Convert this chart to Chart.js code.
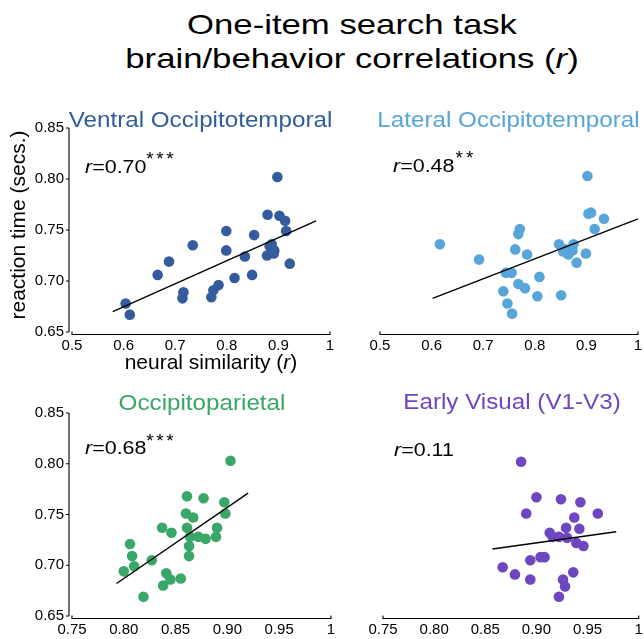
<!DOCTYPE html>
<html>
<head>
<meta charset="utf-8">
<script src="https://cdn.jsdelivr.net/npm/chart.js@4"></script>
<style>
  html, body { margin: 0; padding: 0; background: #fff; }
  #wrap { position: relative; width: 644px; height: 639px; overflow: hidden;
          font-family: "Liberation Sans", Arial, Helvetica, sans-serif; }
  #wrap canvas { position: absolute; left: 0; top: 0; }
  .ttl { position: absolute; left: 352px; white-space: nowrap; font-size: 28px; line-height: 28px;
         color: #000; transform: translateX(-50%) scaleX(1.24); }
</style>
</head>
<body>
<div id="wrap">
  <div class="ttl" style="top:11px">One-item search task</div>
  <div class="ttl" style="top:45px">brain/behavior correlations (<i>r</i>)</div>
  <canvas id="pVentral" width="644" height="639"></canvas>
  <canvas id="pLateral" width="644" height="639"></canvas>
  <canvas id="pParietal" width="644" height="639"></canvas>
  <canvas id="pEarly" width="644" height="639"></canvas>
</div>
<script>
// ---- axis ticks ----
const yTicks = [0.65, 0.70, 0.75, 0.80, 0.85];
const yTickLabels = ['0.65', '0.70', '0.75', '0.80', '0.85'];
const xTicksWide = [0.5, 0.6, 0.7, 0.8, 0.9, 1];
const xTickLabelsWide = ['0.5', '0.6', '0.7', '0.8', '0.9', '1'];
const xTicksNarrow = [0.75, 0.80, 0.85, 0.90, 0.95, 1];
const xTickLabelsNarrow = ['0.75', '0.80', '0.85', '0.90', '0.95', '1'];

// ---- region names and correlation labels ----
const regionNames = ['Ventral Occipitotemporal', 'Lateral Occipitotemporal', 'Occipitoparietal', 'Early Visual (V1-V3)'];
const rValues = ['0.70', '0.48', '0.68', '0.11'];
const rStars = ['***', '**', '***', ''];
const xAxisTitle = 'neural similarity (';
const yAxisTitle = 'reaction time (secs.)';

// ---- ventral occipitotemporal ----
const ventralSim = [0.604, 0.612, 0.666, 0.688, 0.716, 0.714, 0.734, 0.770, 0.774, 0.784, 0.799, 0.799, 0.815, 0.835,
  0.849, 0.853, 0.879, 0.883, 0.892, 0.878, 0.891, 0.887, 0.898, 0.902, 0.913, 0.915, 0.922];
const ventralRT = [0.678, 0.667, 0.706, 0.719, 0.689, 0.683, 0.735, 0.684, 0.691, 0.696, 0.749, 0.730, 0.703, 0.724,
  0.706, 0.745, 0.765, 0.734, 0.730, 0.725, 0.727, 0.736, 0.802, 0.764, 0.759, 0.749, 0.717];
const ventralFitX = [0.579, 0.973];
const ventralFitY = [0.670, 0.759];

// ---- lateral occipitotemporal ----
const lateralSim = [0.616, 0.692, 0.739, 0.747, 0.756, 0.744, 0.755, 0.762, 0.768, 0.771, 0.768, 0.781, 0.785, 0.805,
  0.809, 0.847, 0.851, 0.855, 0.860, 0.865, 0.873, 0.875, 0.881, 0.899, 0.902, 0.904, 0.909, 0.916, 0.934];
const lateralRT = [0.736, 0.721, 0.690, 0.678, 0.668, 0.708, 0.708, 0.731, 0.746, 0.751, 0.697, 0.693, 0.726, 0.685,
  0.704, 0.736, 0.686, 0.729, 0.731, 0.726, 0.730, 0.736, 0.718, 0.727, 0.803, 0.766, 0.767, 0.751, 0.761];
const lateralFitX = [0.602, 1.0];
const lateralFitY = [0.683, 0.761];

// ---- occipitoparietal ----
const parietalSim = [0.800, 0.806, 0.808, 0.810, 0.819, 0.827, 0.837, 0.846, 0.838, 0.841, 0.845, 0.855, 0.860, 0.861,
  0.867, 0.861, 0.864, 0.863, 0.863, 0.872, 0.877, 0.879, 0.889, 0.890, 0.897, 0.898, 0.903];
const parietalRT = [0.694, 0.721, 0.709, 0.699, 0.669, 0.705, 0.737, 0.732, 0.680, 0.692, 0.686, 0.687, 0.751, 0.768,
  0.747, 0.737, 0.728, 0.719, 0.709, 0.728, 0.766, 0.726, 0.728, 0.737, 0.762, 0.751, 0.803];
const parietalFitX = [0.793, 0.920];
const parietalFitY = [0.682, 0.771];

// ---- early visual (V1-V3) ----
const earlySim = [0.885, 0.900, 0.924, 0.943, 0.890, 0.960, 0.937, 0.929, 0.942, 0.913, 0.916, 0.922, 0.930, 0.939,
  0.946, 0.904, 0.908, 0.894, 0.867, 0.879, 0.894, 0.936, 0.926, 0.928, 0.922];
const earlyRT = [0.802, 0.767, 0.765, 0.762, 0.751, 0.751, 0.747, 0.737, 0.736, 0.732, 0.728, 0.728, 0.727, 0.722,
  0.719, 0.708, 0.708, 0.705, 0.698, 0.691, 0.686, 0.693, 0.686, 0.679, 0.669];
const earlyFitX = [0.857, 0.978];
const earlyFitY = [0.716, 0.733];

const FONT = '"Liberation Sans", Arial, Helvetica, sans-serif';
const X_AXIS_H = 40;

// Draws a run of text pieces (some italic) with a horizontal stretch.
function stretchedText(ctx, parts, x, y, size, sx, align) {
  ctx.save();
  const fonts = parts.map(p => (p.italic ? 'italic ' : '') + size + 'px ' + FONT);
  const widths = parts.map((p, i) => { ctx.font = fonts[i]; return ctx.measureText(p.text).width; });
  const total = widths.reduce((a, b) => a + b, 0);
  ctx.translate(x, y);
  ctx.scale(sx, 1);
  let cx = align === 'center' ? -total / 2 : 0;
  ctx.textAlign = 'left';
  ctx.textBaseline = 'alphabetic';
  parts.forEach((p, i) => { ctx.font = fonts[i]; ctx.fillText(p.text, cx, 0); cx += widths[i]; });
  ctx.restore();
}

// Detached axis lines, panel title, r label and axis titles.
const panelDecor = {
  id: 'panelDecor',
  afterDraw(chart, args, o) {
    const ctx = chart.ctx, a = chart.chartArea, xs = chart.scales.x, ys = chart.scales.y;
    ctx.save();
    ctx.strokeStyle = '#000';
    ctx.fillStyle = '#000';
    ctx.lineWidth = 1.1;

    const xl = xs.getPixelForValue(o.xTicks[0]);
    const xr = xs.getPixelForValue(o.xTicks[o.xTicks.length - 1]);
    const ay = a.bottom + 2.5;
    ctx.beginPath();
    ctx.moveTo(xl, ay - 3); ctx.lineTo(xl, ay); ctx.lineTo(xr, ay); ctx.lineTo(xr, ay - 3);
    ctx.stroke();

    if (o.yAxis) {
      const ax = a.left - 3;
      const yb = ys.getPixelForValue(yTicks[0]);
      const yt = ys.getPixelForValue(yTicks[yTicks.length - 1]);
      ctx.beginPath();
      ctx.moveTo(ax, yt); ctx.lineTo(ax, yb);
      yTicks.forEach(v => { const py = ys.getPixelForValue(v); ctx.moveTo(ax - 3, py); ctx.lineTo(ax, py); });
      ctx.stroke();
    }

    ctx.fillStyle = o.color;
    stretchedText(ctx, [{ text: o.title }], o.titleX, o.titleY, 22, 1.1, 'center');

    ctx.fillStyle = '#000';
    stretchedText(ctx, [{ text: 'r', italic: true }, { text: '=' + o.r }], o.rX, o.rY, 19, 1.13, 'left');
    ctx.font = '19px ' + FONT;
    ctx.textAlign = 'left';
    ctx.textBaseline = 'alphabetic';
    for (let i = 0; i < o.stars.length; i++) {
      ctx.fillText(o.stars[i], o.starX + i * o.starStep, o.starY);
    }

    if (o.axisTitles) {
      stretchedText(ctx, [{ text: xAxisTitle }, { text: 'r', italic: true }, { text: ')' }], 211, 369, 21, 1, 'center');
      ctx.save();
      ctx.translate(25, 225);
      ctx.rotate(-Math.PI / 2);
      stretchedText(ctx, [{ text: yAxisTitle }], 0, 0, 21, 1, 'center');
      ctx.restore();
    }
    ctx.restore();
  }
};

function makePanel(id, p) {
  const yW = p.yAxis ? p.area.left : 0;
  return new Chart(document.getElementById(id), {
    type: 'scatter',
    data: {
      datasets: [
        {
          type: 'line',
          data: p.fitX.map((x, i) => ({ x, y: p.fitY[i] })),
          borderColor: '#000', borderWidth: 1.4, pointRadius: 0, fill: false, tension: 0, clip: false
        },
        {
          data: p.sim.map((x, i) => ({ x, y: p.rt[i] })),
          backgroundColor: p.color, borderColor: p.color, borderWidth: 0,
          pointRadius: 5.3, pointHoverRadius: 5.3, clip: false
        }
      ]
    },
    options: {
      responsive: false,
      animation: false,
      events: [],
      layout: {
        padding: {
          left: p.area.left - yW,
          top: p.area.top,
          right: 644 - p.area.right,
          bottom: 639 - p.area.bottom - X_AXIS_H
        }
      },
      plugins: {
        legend: { display: false },
        tooltip: { enabled: false },
        panelDecor: {
          xTicks: p.xTicks, yAxis: p.yAxis, color: p.color,
          title: p.title, titleX: p.titleX, titleY: p.titleY,
          r: p.r, rX: p.rX, rY: p.rY,
          stars: p.stars, starX: p.starX, starY: p.starY, starStep: p.starStep,
          axisTitles: p.axisTitles
        }
      },
      scales: {
        x: {
          type: 'linear', position: 'bottom',
          min: p.xTicks[0], max: p.xTicks[p.xTicks.length - 1],
          grid: { display: false, drawTicks: false },
          border: { display: false },
          ticks: {
            padding: 5, color: '#000', maxRotation: 0, autoSkip: false,
            font: { family: FONT, size: 15 },
            callback: (v, i) => p.xLabels[i]
          },
          afterBuildTicks: s => { s.ticks = p.xTicks.map(v => ({ value: v })); },
          afterFit: s => { s.height = X_AXIS_H; s.paddingLeft = 0; s.paddingRight = 0; }
        },
        y: {
          type: 'linear', position: 'left', display: p.yAxis,
          min: yTicks[0], max: yTicks[yTicks.length - 1],
          grid: { display: false, drawTicks: false },
          border: { display: false },
          ticks: {
            padding: 8, color: '#000',
            font: { family: FONT, size: 15 },
            callback: (v, i) => yTickLabels[i]
          },
          afterBuildTicks: s => { s.ticks = yTicks.map(v => ({ value: v })); },
          afterFit: s => { s.width = yW; }
        }
      }
    },
    plugins: [panelDecor]
  });
}

makePanel('pVentral', {
  sim: ventralSim, rt: ventralRT, fitX: ventralFitX, fitY: ventralFitY, color: '#335c9c',
  xTicks: xTicksWide, xLabels: xTickLabelsWide, yAxis: true, axisTitles: true,
  area: { left: 72, right: 330, top: 128, bottom: 332 },
  title: regionNames[0], titleX: 200.5, titleY: 127,
  r: rValues[0], rX: 85, rY: 173, stars: rStars[0], starX: 146.3, starY: 164.7, starStep: 10
});
makePanel('pLateral', {
  sim: lateralSim, rt: lateralRT, fitX: lateralFitX, fitY: lateralFitY, color: '#58a5da',
  xTicks: xTicksWide, xLabels: xTickLabelsWide, yAxis: false, axisTitles: false,
  area: { left: 380, right: 638, top: 128, bottom: 332 },
  title: regionNames[1], titleX: 508.5, titleY: 127,
  r: rValues[1], rX: 393, rY: 172, stars: rStars[1], starX: 455.5, starY: 164, starStep: 10.5
});
makePanel('pParietal', {
  sim: parietalSim, rt: parietalRT, fitX: parietalFitX, fitY: parietalFitY, color: '#38a767',
  xTicks: xTicksNarrow, xLabels: xTickLabelsNarrow, yAxis: true, axisTitles: false,
  area: { left: 72, right: 331, top: 413, bottom: 616 },
  title: regionNames[2], titleX: 202, titleY: 410,
  r: rValues[2], rX: 85, rY: 454, stars: rStars[2], starX: 146.3, starY: 446.5, starStep: 10
});
makePanel('pEarly', {
  sim: earlySim, rt: earlyRT, fitX: earlyFitX, fitY: earlyFitY, color: '#6f46c1',
  xTicks: xTicksNarrow, xLabels: xTickLabelsNarrow, yAxis: false, axisTitles: false,
  area: { left: 383, right: 642, top: 413, bottom: 616 },
  title: regionNames[3], titleX: 512, titleY: 409,
  r: rValues[3], rX: 394, rY: 456, stars: rStars[3], starX: 0, starY: 0, starStep: 10
});
</script>
</body>
</html>
